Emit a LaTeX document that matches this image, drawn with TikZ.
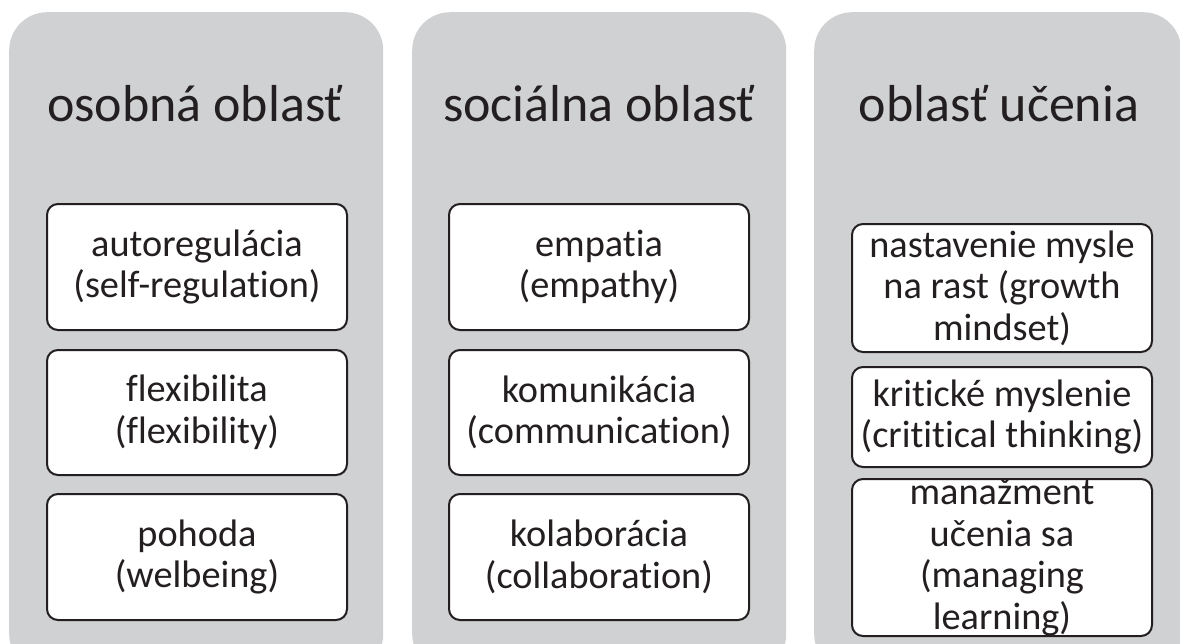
\documentclass[tikz,border=0pt]{standalone}
\usepackage{fontspec}
\setmainfont{Carlito}[Ligatures=NoCommon]
\definecolor{panelgrey}{RGB}{208,209,211}
\definecolor{ink}{RGB}{35,31,32}
\tikzset{
  panel/.style={rectangle, fill=panelgrey, rounded corners=38pt, anchor=north west, inner sep=0pt},
  title/.style={anchor=base, text=ink, font=\fontsize{52}{60}\selectfont, inner sep=0pt},
  item/.style={rectangle, draw=ink, line width=2pt, fill=white, rounded corners=11pt,
    anchor=north west, minimum width=300pt, text=ink, align=center, inner sep=0pt,
    font=\fontsize{38.3}{41.5}\selectfont},
}
\begin{document}
\begin{tikzpicture}[x=1pt,y=-1pt]
\useasboundingbox (0,0) rectangle (1180,643);
\clip (0,0) rectangle (1180,643);
% panels
\node[panel, minimum width=374pt, minimum height=660pt] (p1) at (9,12) {};
\node[panel, minimum width=374pt, minimum height=660pt] (p2) at (412,12) {};
\node[panel, minimum width=367pt, minimum height=660pt] (p3) at (814,12) {};
% titles
\node[title] (t1) at (195,121) {osobná oblasť};
\node[title] (t2) at (599,121) {sociálna oblasť};
\node[title] (t3) at (999,121) {oblasť učenia};
% panel 1
\node[item, minimum height=126pt] (a1) at (46,203) {autoregulácia\\(self-regulation)};
\node[item, minimum height=125pt] (a2) at (46,349) {flexibilita\\(flexibility)};
\node[item, minimum height=126pt] (a3) at (46,493) {pohoda\\(welbeing)};
% panel 2
\node[item, minimum height=126pt] (b1) at (448,203) {empatia\\(empathy)};
\node[item, minimum height=125pt] (b2) at (448,349) {komunikácia\\(communication)};
\node[item, minimum height=126pt] (b3) at (448,493) {kolaborácia\\(collaboration)};
% panel 3
\node[item, minimum height=128pt] (c1) at (851,223) {nastavenie mysle\\na rast (growth\\mindset)};
\node[item, minimum height=100pt] (c2) at (851,366) {kritické myslenie\\(crititical thinking)};
\node[item, minimum height=157pt] (c3) at (851,478) {manažment\\učenia sa\\(managing\\learning)};
\end{tikzpicture}
\end{document}
